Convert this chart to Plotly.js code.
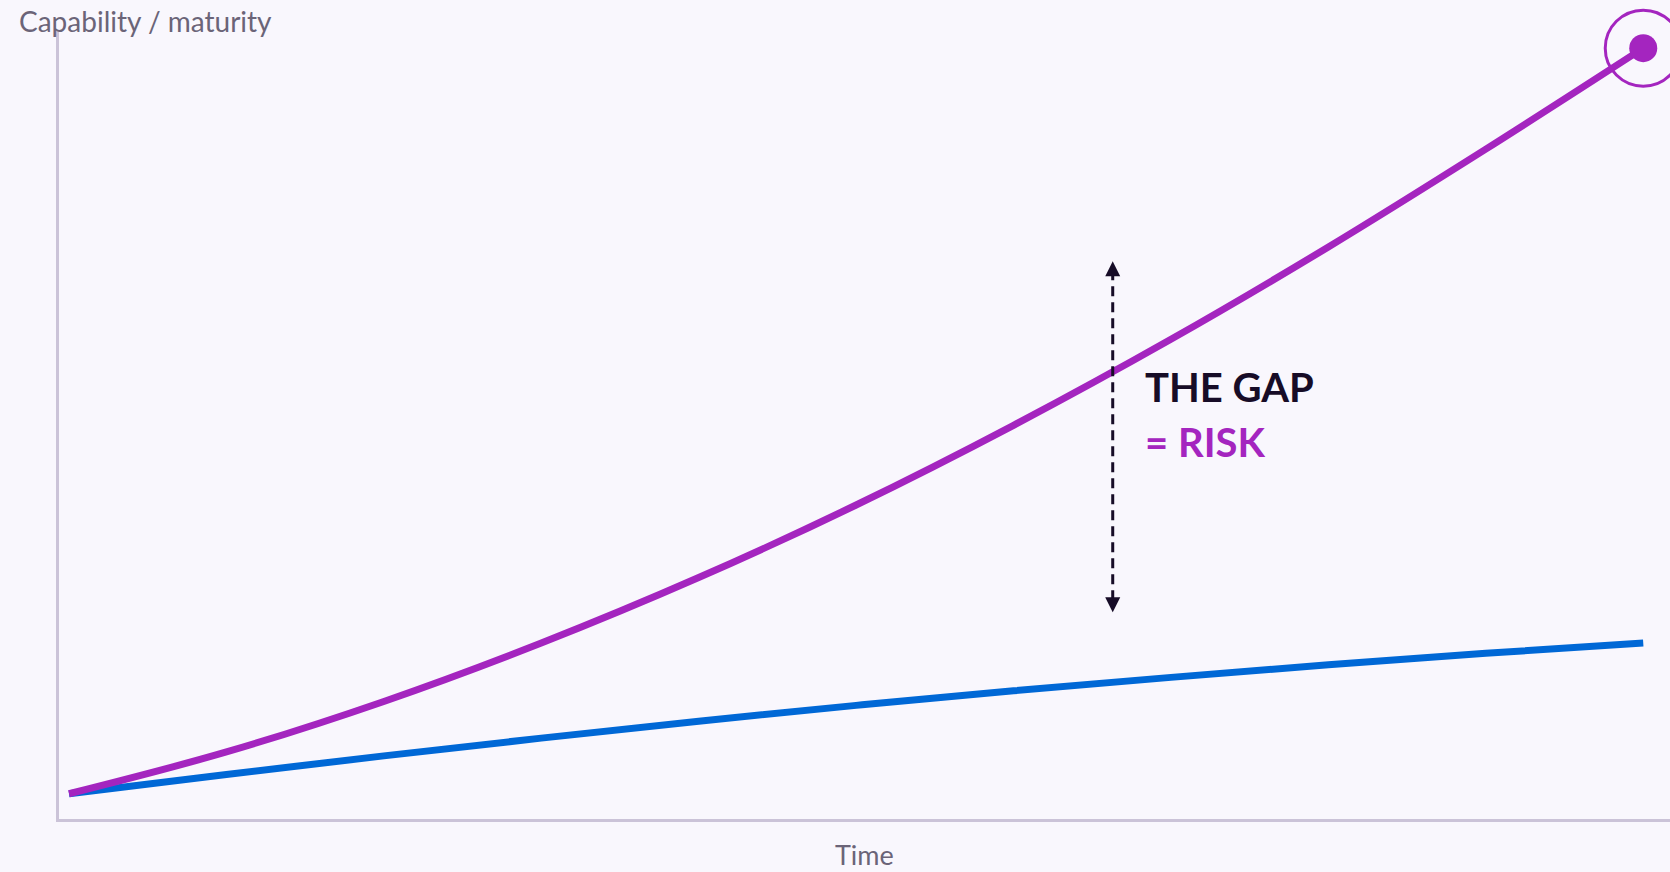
<!DOCTYPE html>
<html>
<head>
<meta charset="utf-8">
<script src="https://cdn.plot.ly/plotly-3.0.1.min.js"></script>
<style>
  html, body { margin: 0; padding: 0; background: #f9f7fd; }
  #chart { width: 1670px; height: 872px; }
</style>
</head>
<body>
<div id="chart"></div>
<script>
// ---- data ----
const timeSteps = [0, 1, 2, 3, 4, 5, 6, 7, 8, 9, 10];
const threatCapability = [3.2, 8.5, 14.9, 22.3, 30.6, 39.8, 49.9, 60.8, 72.5, 84.9, 97.7];
const defenceMaturity = [3.2, 5.65, 8.0, 10.25, 12.4, 14.4, 16.25, 17.95, 19.55, 21.0, 22.3];
const gapTime = [6.63];
const gapBottom = [26.2];
const gapTop = [70.7];
const xTitle = "Time";
const yTitle = "Capability / maturity";
const gapLabel = "THE GAP";
const riskLabel = "= RISK";

const PURPLE = "#a425bf";
const BLUE = "#0068d6";
const DARK = "#170c27";
const GREY = "#6b6478";
const AXIS = "#cbc3d8";
const BG = "#f9f7fd";
const FONT = "Lato, 'Open Sans', sans-serif";

const pxPerUnit = 789 / 100;
const headPx = 12 / pxPerUnit;

const lastIdx = timeSteps.length - 1;

const traces = [
  {
    x: timeSteps, y: defenceMaturity, type: "scatter", mode: "lines",
    line: { color: BLUE, width: 7, shape: "spline", smoothing: 1 },
    hoverinfo: "skip", showlegend: false
  },
  {
    x: timeSteps, y: threatCapability, type: "scatter", mode: "lines",
    line: { color: PURPLE, width: 7, shape: "spline", smoothing: 1 },
    hoverinfo: "skip", showlegend: false
  },
  // end marker: ring + dot
  {
    x: [timeSteps[lastIdx]], y: [threatCapability[lastIdx]], type: "scatter", mode: "markers",
    marker: { symbol: "circle-open", size: 76, color: PURPLE, line: { width: 3, color: PURPLE } },
    cliponaxis: false, hoverinfo: "skip", showlegend: false
  },
  {
    x: [timeSteps[lastIdx]], y: [threatCapability[lastIdx]], type: "scatter", mode: "markers",
    marker: { symbol: "circle", size: 28, color: PURPLE },
    cliponaxis: false, hoverinfo: "skip", showlegend: false
  },
  // gap arrow: dashed shaft
  {
    x: [gapTime[0], gapTime[0]], y: [gapBottom[0] + headPx, gapTop[0] - headPx],
    type: "scatter", mode: "lines",
    line: { color: DARK, width: 3, dash: "10px,6px" },
    hoverinfo: "skip", showlegend: false
  },
  // arrowheads
  {
    x: [gapTime[0], gapTime[0]], y: [gapTop[0], gapBottom[0]],
    type: "scatter", mode: "markers",
    marker: { symbol: ["arrow-up", "arrow-down"], size: 15, color: DARK, line: { width: 0 } },
    hoverinfo: "skip", showlegend: false
  }
];

const layout = {
  width: 1670, height: 872,
  paper_bgcolor: BG, plot_bgcolor: BG,
  margin: { l: 59, r: 0, t: 30, b: 53, pad: 0 },
  showlegend: false,
  font: { family: FONT, color: GREY },
  xaxis: {
    range: [-0.0635, 10.17], showgrid: false, zeroline: false, showticklabels: false,
    ticks: "", showline: true, linecolor: AXIS, linewidth: 3, fixedrange: true
  },
  yaxis: {
    range: [0, 100], showgrid: false, zeroline: false, showticklabels: false,
    ticks: "", showline: true, linecolor: AXIS, linewidth: 3, fixedrange: true
  },
  annotations: [
    {
      text: yTitle, xref: "paper", yref: "paper", x: 0, y: 1,
      xanchor: "left", yanchor: "middle", xshift: -42, yshift: 9,
      showarrow: false, font: { family: FONT, size: 28, color: GREY }
    },
    {
      text: xTitle, xref: "paper", yref: "paper", x: 0.5, y: 0,
      xanchor: "center", yanchor: "middle", yshift: -35,
      showarrow: false, font: { family: FONT, size: 27, color: GREY }
    },
    {
      text: "<b>" + gapLabel + "</b>", xref: "x", yref: "y", x: 6.82, y: 54.8,
      xanchor: "left", yanchor: "middle", showarrow: false,
      font: { family: FONT, size: 40, color: DARK }
    },
    {
      text: "<b>" + riskLabel + "</b>", xref: "x", yref: "y", x: 6.82, y: 47.8,
      xanchor: "left", yanchor: "middle", showarrow: false,
      font: { family: FONT, size: 40, color: PURPLE }
    }
  ]
};

Plotly.newPlot("chart", traces, layout, { staticPlot: true, displayModeBar: false });
</script>
</body>
</html>
